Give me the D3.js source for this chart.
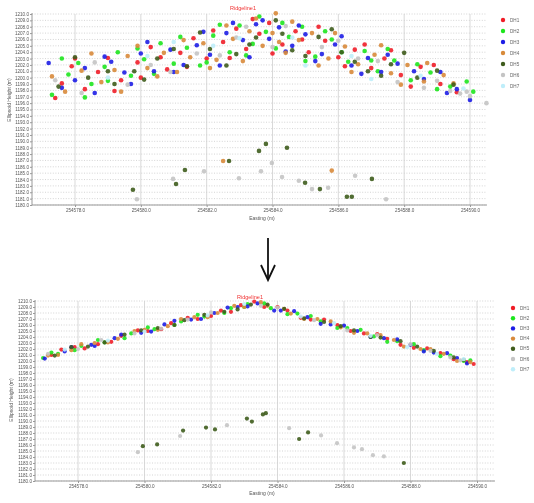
<!DOCTYPE html>
<html>
<head>
<meta charset="utf-8">
<script src="https://cdn.jsdelivr.net/npm/d3@7"></script>
<style>
  body { margin: 0; background: #fff; }
  svg { display: block; font-family: "Liberation Sans", Arial, sans-serif; }
</style>
</head>
<body>
<svg id="chart" width="534" height="503"></svg>
<script>
// series names and colours (legend)
var seriesNames = ["DH1", "DH2", "DH3", "DH4", "DH5", "DH6", "DH7"];
var seriesColors = ["#f01e28", "#1ee61e", "#1e1ee6", "#d88a3a", "#3f5c1c", "#c4c4c4", "#bfeefa"];

// x ticks (easting) and y domain (height)
var eastTicks = [254578, 254580, 254582, 254584, 254586, 254588, 254590];
var heightDomain = [1180, 1210];

// ---- top chart (before) : [easting, height]
var topDH1 = [[254577.6,1199.1],[254577.9,1201.8],[254578.3,1198.2],[254578.7,1200.9],[254579.0,1203.1],[254579.4,1199.6],[254579.9,1202.4],[254580.3,1204.8],[254580.8,1201.3],[254581.2,1203.9],[254581.6,1206.2],[254582.0,1203.0],[254582.5,1205.6],[254582.9,1207.7],[254583.2,1204.5],[254583.6,1206.9],[254583.9,1208.6],[254584.3,1205.2],[254584.7,1207.3],[254585.1,1204.0],[254585.6,1205.8],[254586.0,1203.2],[254586.5,1204.4],[254587.0,1201.5],[254587.4,1203.0],[254587.9,1200.4],[254588.5,1201.7],[254589.1,1199.0],
  [254577.4,1196.8],[254578.0,1203.0],[254579.2,1197.9],[254580.0,1200.0],[254580.6,1203.2],[254581.4,1201.7],[254582.2,1207.4],[254582.7,1203.1],[254583.4,1209.2],[254584.0,1203.8],[254584.9,1206.0],[254585.4,1208.0],[254586.2,1201.8],[254586.8,1205.2],[254587.6,1204.3],[254588.2,1198.6],[254588.9,1202.0],[254589.6,1197.7]];
var topDH2 = [[254577.3,1197.3],[254577.8,1200.5],[254578.1,1202.3],[254578.5,1199.0],[254578.9,1201.7],[254579.3,1204.0],[254579.7,1200.3],[254580.1,1202.9],[254580.6,1205.4],[254581.0,1202.2],[254581.4,1204.7],[254581.8,1201.9],[254582.2,1206.6],[254582.7,1204.0],[254583.0,1208.2],[254583.4,1205.3],[254583.8,1207.2],[254584.1,1204.6],[254584.5,1206.4],[254584.9,1208.0],[254585.3,1203.3],[254585.8,1206.0],[254586.3,1202.5],[254586.8,1204.2],[254587.2,1201.0],[254587.7,1202.7],[254588.2,1199.6],[254588.8,1200.8],[254589.4,1198.6],[254589.9,1199.4],
  [254577.6,1203.0],[254578.3,1196.9],[254579.0,1199.5],[254579.9,1204.6],[254580.4,1200.6],[254581.2,1206.4],[254582.0,1202.4],[254582.4,1208.3],[254583.2,1203.5],[254583.6,1209.6],[254584.3,1208.6],[254585.0,1202.6],[254585.6,1207.3],[254586.1,1204.0],[254587.0,1202.7],[254587.5,1204.5],[254588.4,1202.1],[254589.0,1198.2],[254590.1,1197.8]];
var topDH3 = [[254577.2,1202.3],[254577.6,1198.4],[254578.0,1199.6],[254578.6,1197.6],[254579.1,1202.5],[254579.5,1200.8],[254580.0,1203.8],[254580.4,1201.0],[254580.9,1204.4],[254581.3,1202.0],[254581.7,1205.1],[254582.1,1203.6],[254582.6,1207.0],[254583.1,1205.9],[254583.5,1208.4],[254583.9,1206.1],[254584.2,1207.9],[254584.6,1205.0],[254585.0,1206.8],[254585.5,1203.7],[254585.9,1205.2],[254586.4,1201.9],[254586.9,1203.1],[254587.3,1200.9],[254587.8,1202.2],[254588.3,1201.0],[254589.1,1200.9],[254589.6,1198.2],
  [254578.3,1201.5],[254578.9,1203.3],[254579.7,1199.0],[254580.2,1205.6],[254581.0,1200.9],[254581.9,1207.2],[254582.4,1201.9],[254582.8,1208.6],[254583.3,1203.2],[254583.7,1209.0],[254584.4,1204.1],[254584.8,1208.2],[254585.3,1202.6],[254586.1,1206.5],[254586.7,1200.6],[254587.5,1203.6],[254588.6,1199.8],[254589.3,1197.6],[254590.0,1196.5]];
var topDH4 = [[254577.7,1197.8],[254578.2,1201.1],[254578.8,1199.3],[254579.2,1201.2],[254579.6,1203.4],[254580.2,1201.5],[254580.7,1203.9],[254581.1,1200.9],[254581.5,1203.2],[254581.9,1205.4],[254582.3,1202.8],[254582.8,1206.1],[254583.3,1207.3],[254583.7,1205.0],[254584.0,1207.0],[254584.1,1210.1],[254584.4,1203.9],[254584.8,1205.9],[254585.2,1207.0],[254585.7,1203.0],[254586.2,1204.9],[254586.6,1202.1],[254587.1,1203.6],[254587.6,1200.7],[254588.1,1202.0],[254588.6,1199.4],[254589.2,1200.4],[254582.5,1186.9],[254585.8,1185.4],
  [254577.3,1200.2],[254578.5,1203.8],[254579.4,1197.8],[254579.9,1205.0],[254580.5,1200.2],[254581.3,1205.9],[254582.1,1201.5],[254582.6,1208.2],[254583.1,1202.6],[254583.5,1209.3],[254584.2,1205.6],[254584.6,1208.8],[254585.4,1201.9],[254585.9,1207.0],[254586.4,1200.9],[254587.3,1205.1],[254587.9,1198.9],[254588.7,1202.3],[254589.5,1199.1]];
var topDH5 = [[254577.5,1198.6],[254578.4,1200.0],[254579.2,1199.0],[254579.8,1201.0],[254580.5,1203.0],[254581.4,1201.8],[254582.1,1204.5],[254582.9,1203.7],[254583.5,1206.3],[254584.1,1209.0],[254584.6,1204.3],[254585.4,1206.4],[254586.1,1204.0],[254586.9,1201.0],[254587.6,1202.1],[254588.4,1200.0],[254589.0,1201.1],
  [254578.0,1203.2],[254579.0,1201.0],[254580.1,1199.7],[254581.0,1204.5],[254581.8,1207.1],[254582.6,1201.9],[254583.3,1205.2],[254584.3,1206.9],[254585.0,1203.4],[254585.8,1207.6],[254586.5,1202.5],[254587.3,1200.3],[254588.0,1203.9],[254589.5,1198.9],
  [254579.76,1182.4],[254581.07,1183.3],[254581.34,1185.5],[254582.68,1186.9],[254583.59,1188.5],[254583.80,1189.6],[254584.44,1189.0],[254584.99,1183.5],[254585.44,1182.5],[254586.26,1181.3],[254586.41,1181.3],[254587.02,1184.1]];
var topDH6 = [[254577.4,1199.6],[254578.6,1202.4],[254579.6,1198.9],[254580.9,1200.9],[254582.4,1203.5],[254583.2,1208.0],[254584.4,1208.1],[254585.5,1204.8],[254586.6,1203.0],[254587.8,1199.3],[254588.6,1198.4],[254589.4,1197.9],[254589.7,1197.5],[254590.0,1197.1],[254590.5,1196.0],
  [254578.2,1197.6],[254580.3,1202.0],[254581.7,1203.8],[254582.9,1206.3],[254584.0,1204.8],[254586.0,1205.8],[254587.2,1202.6],[254589.0,1199.5],[254589.9,1197.8],
  [254579.88,1180.9],[254580.98,1184.1],[254581.92,1185.3],[254582.98,1184.2],[254583.65,1185.3],[254583.98,1186.6],[254584.29,1184.4],[254584.80,1183.8],[254585.20,1182.5],[254585.69,1182.7],[254586.51,1184.6],[254587.45,1180.9]];
var topDH7 = [[254579.0,1200.0],[254581.0,1205.6],[254583.0,1206.2],[254585.0,1201.9],[254587.0,1199.8],[254589.8,1198.3],
  [254580.2,1203.4],[254582.2,1205.0],[254584.6,1206.3],[254586.4,1203.4],[254588.5,1200.3]];

// ---- bottom chart (after)
var botDH1 = [[254577.2,1201.0],[254577.9,1202.3],[254578.6,1202.8],[254579.3,1204.2],[254580.1,1205.0],[254580.8,1206.3],[254581.6,1207.0],[254582.3,1208.4],[254582.9,1209.3],[254583.6,1209.0],[254584.3,1208.4],[254585.0,1206.9],[254585.8,1206.0],[254586.6,1204.6],[254587.3,1203.7],[254588.1,1202.2],[254588.9,1201.3],[254589.7,1199.8],[254589.9,1199.5],
  [254577.5,1201.9],[254578.2,1202.1],[254579.0,1203.2],[254579.8,1205.1],[254580.5,1205.3],[254581.3,1207.2],[254582.0,1207.5],[254582.6,1208.2],[254583.3,1209.9],[254584.0,1209.0],[254584.7,1207.2],[254585.4,1206.9],[254586.2,1205.0],[254587.0,1204.5],[254587.7,1202.7],[254588.5,1202.1],[254589.3,1200.3]];
var botDH2 = [[254576.95,1200.5],[254577.4,1201.2],[254578.1,1202.5],[254578.8,1203.1],[254579.6,1204.6],[254580.3,1205.3],[254581.1,1206.6],[254581.8,1207.4],[254582.6,1208.8],[254583.1,1209.5],[254583.8,1208.8],[254584.6,1207.9],[254585.3,1206.6],[254586.1,1205.5],[254586.9,1204.1],[254587.6,1203.3],[254588.4,1201.8],[254589.2,1200.9],[254589.6,1200.0],
  [254577.2,1201.4],[254577.9,1201.8],[254578.6,1203.5],[254579.4,1203.8],[254580.1,1205.6],[254580.9,1206.0],[254581.6,1207.7],[254582.4,1208.0],[254583.0,1209.0],[254583.6,1209.6],[254584.3,1207.8],[254585.0,1207.5],[254585.8,1205.5],[254586.5,1205.2],[254587.3,1203.2],[254588.1,1202.8],[254588.9,1200.8],[254589.8,1200.1]];
var botDH3 = [[254577.6,1201.6],[254578.4,1202.7],[254579.1,1203.8],[254579.9,1204.7],[254580.6,1206.1],[254581.4,1206.9],[254582.1,1208.0],[254582.8,1209.0],[254583.4,1209.6],[254584.1,1208.4],[254584.9,1207.3],[254585.6,1206.1],[254586.4,1205.0],[254587.2,1203.8],[254588.0,1202.7],[254588.7,1201.4],[254589.4,1200.5],
  [254577.0,1200.4],[254577.8,1202.3],[254578.5,1202.5],[254579.3,1204.4],[254580.2,1204.9],[254580.9,1206.7],[254581.7,1207.0],[254582.5,1208.9],[254583.1,1209.1],[254583.9,1208.4],[254584.5,1208.3],[254585.3,1206.2],[254586.0,1205.9],[254586.8,1204.0],[254587.6,1203.6],[254588.4,1201.6],[254589.1,1201.3],[254589.7,1199.6]];
var botDH4 = [[254577.1,1200.9],[254577.8,1201.8],[254578.5,1203.0],[254579.2,1203.7],[254580.0,1205.2],[254580.7,1205.8],[254581.5,1207.3],[254582.2,1208.0],[254583.0,1209.0],[254583.7,1209.2],[254584.4,1207.9],[254585.2,1207.0],[254585.9,1205.6],[254586.7,1204.6],[254587.5,1203.5],[254588.3,1202.0],[254589.0,1201.2],[254589.8,1199.8],
  [254577.4,1201.0],[254578.1,1202.8],[254578.9,1203.1],[254579.7,1205.0],[254580.4,1205.2],[254581.1,1207.0],[254581.9,1207.3],[254582.7,1209.2],[254583.5,1209.8],[254584.2,1208.7],[254584.8,1207.0],[254585.6,1206.6],[254586.3,1204.7],[254587.1,1204.3],[254587.8,1202.4],[254588.6,1202.0],[254589.4,1200.0]];
var botDH5 = [[254577.3,1200.9],[254578.3,1202.4],[254579.4,1204.4],[254580.4,1205.5],[254581.2,1206.8],[254582.4,1208.2],[254583.2,1209.4],[254584.2,1208.7],[254585.4,1206.5],[254586.3,1205.1],[254587.1,1203.9],[254588.2,1202.4],[254589.3,1200.6],
  [254577.8,1202.3],[254578.8,1203.1],[254579.9,1205.1],[254580.9,1206.0],[254581.8,1207.7],[254582.8,1208.6],[254583.7,1209.4],[254584.8,1207.1],[254585.9,1205.8],[254586.8,1204.0],[254587.7,1203.3],[254588.7,1201.7],[254589.6,1200.2],
  [254579.95,1185.8],[254580.38,1186.1],[254581.16,1188.4],[254581.85,1188.9],[254582.12,1188.6],[254583.08,1190.4],[254583.23,1189.9],[254583.56,1191.1],[254583.65,1191.3],[254584.65,1187.0],[254584.92,1188.1],[254587.80,1183.0]];
var botDH6 = [[254578.0,1202.0],[254579.7,1204.6],[254581.3,1206.9],[254583.5,1209.2],[254585.1,1206.8],[254587.0,1204.3],[254588.6,1201.7],[254589.5,1200.1],
  [254577.1,1201.2],[254578.7,1203.5],[254580.5,1205.4],[254582.0,1208.1],[254584.0,1208.9],[254586.1,1205.1],[254588.0,1202.8],[254589.2,1200.6],
  [254579.80,1184.8],[254581.07,1187.5],[254582.48,1189.3],[254584.35,1188.8],[254585.31,1187.6],[254585.79,1186.3],[254586.30,1185.6],[254586.54,1185.3],[254586.87,1184.3],[254587.20,1184.1]];
var botDH7 = [[254578.9,1203.4],[254581.9,1207.6],[254584.7,1207.4],[254586.8,1204.2],[254588.8,1201.2],
  [254577.6,1201.9],[254580.0,1204.9],[254583.0,1209.5],[254585.7,1206.3],[254587.9,1202.3],[254589.6,1200.3]];

var svg = d3.select("#chart");
svg.append("defs").append("filter").attr("id", "soft")
    .append("feGaussianBlur").attr("stdDeviation", 0.45);

var fmt = d3.format(".1f");

function drawPanel(cfg, series)
{
    var x = d3.scaleLinear().domain([eastTicks[0], eastTicks[eastTicks.length - 1]]).range(cfg.xr);
    var y = d3.scaleLinear().domain(heightDomain).range([cfg.bottom, cfg.top]);
    var yTicks = y.ticks(30);

    var g = svg.append("g").attr("filter", "url(#soft)");

    //grid
    g.append("g").selectAll("line").data(yTicks).join("line")
        .attr("x1", cfg.left).attr("x2", cfg.right)
        .attr("y1", function (d) { return y(d); }).attr("y2", function (d) { return y(d); })
        .attr("stroke", "#b8b8b8").attr("stroke-width", 0.6).attr("stroke-dasharray", "1,1.6");
    g.append("g").selectAll("line").data(eastTicks).join("line")
        .attr("x1", function (d) { return x(d); }).attr("x2", function (d) { return x(d); })
        .attr("y1", cfg.top).attr("y2", cfg.bottom)
        .attr("stroke", "#cfcfcf").attr("stroke-width", 0.8);

    //axes
    var yAxis = g.append("g").attr("transform", "translate(" + cfg.left + ",0)")
        .call(d3.axisLeft(y).tickValues(yTicks).tickFormat(fmt).tickSize(2).tickPadding(1));
    var xAxis = g.append("g").attr("transform", "translate(0," + cfg.bottom + ")")
        .call(d3.axisBottom(x).tickValues(eastTicks).tickFormat(fmt).tickSize(2).tickPadding(2));
    [yAxis, xAxis].forEach(function (a) {
        a.select(".domain").remove();
        a.selectAll("line").attr("stroke", "#999");
        a.selectAll("text").attr("fill", "#555").style("font-size", "4.6px");
    });
    g.append("line").attr("x1", cfg.left).attr("x2", cfg.left).attr("y1", cfg.top - 1).attr("y2", cfg.bottom)
        .attr("stroke", "#999");
    g.append("line").attr("x1", cfg.left).attr("x2", cfg.right).attr("y1", cfg.bottom).attr("y2", cfg.bottom)
        .attr("stroke", "#999");

    //points
    series.forEach(function (pts, i) {
        g.append("g").selectAll("circle").data(pts).join("circle")
            .attr("cx", function (d) { return x(d[0]); })
            .attr("cy", function (d) { return y(d[1]); })
            .attr("r", cfg.r)
            .attr("fill", seriesColors[i]).attr("fill-opacity", 0.9);
    });

    //titles
    g.append("text").attr("x", cfg.titleX).attr("y", cfg.titleY).attr("text-anchor", "middle")
        .attr("fill", "#f03030").style("font-size", "5.5px").text("Ridgeline1");
    g.append("text").attr("x", cfg.xTitleX).attr("y", cfg.xTitleY).attr("text-anchor", "middle")
        .attr("fill", "#555").style("font-size", "5px").text("Easting (m)");
    g.append("text").attr("transform", "translate(" + cfg.yTitleX + "," + cfg.yTitleY + ") rotate(-90)")
        .attr("text-anchor", "middle").attr("fill", "#555").style("font-size", "5px").text("Ellipsoid Height (m)");

    //legend
    var leg = g.append("g").selectAll("g").data(seriesNames).join("g")
        .attr("transform", function (d, i) { return "translate(" + cfg.legX + "," + (cfg.legY + i * cfg.legStep) + ")"; });
    leg.append("circle").attr("r", 2.2).attr("fill", function (d, i) { return seriesColors[i]; });
    leg.append("text").attr("x", 7).attr("dy", "0.35em").attr("fill", "#666").style("font-size", "4.6px")
        .text(function (d) { return d; });
}

drawPanel({left: 32, right: 487, top: 14, bottom: 205, xr: [75, 470], r: 2.3,
    titleX: 243, titleY: 10, xTitleX: 262, xTitleY: 220, yTitleX: 11, yTitleY: 100,
    legX: 503, legY: 20, legStep: 11},
    [topDH1, topDH2, topDH3, topDH4, topDH5, topDH6, topDH7]);

drawPanel({left: 35, right: 495, top: 301, bottom: 481, xr: [78, 477], r: 2.1,
    titleX: 250, titleY: 299, xTitleX: 262, xTitleY: 495, yTitleX: 13, yTitleY: 400,
    legX: 513, legY: 308, legStep: 10.2},
    [botDH1, botDH2, botDH3, botDH4, botDH5, botDH6, botDH7]);

//arrow between the charts
var arrow = svg.append("g").attr("stroke", "#111").attr("stroke-width", 1.8).attr("fill", "none");
arrow.append("line").attr("x1", 268).attr("x2", 268).attr("y1", 238).attr("y2", 280);
arrow.append("path").attr("d", "M261,265 L268,280 L275,265");
</script>
</body>
</html>
